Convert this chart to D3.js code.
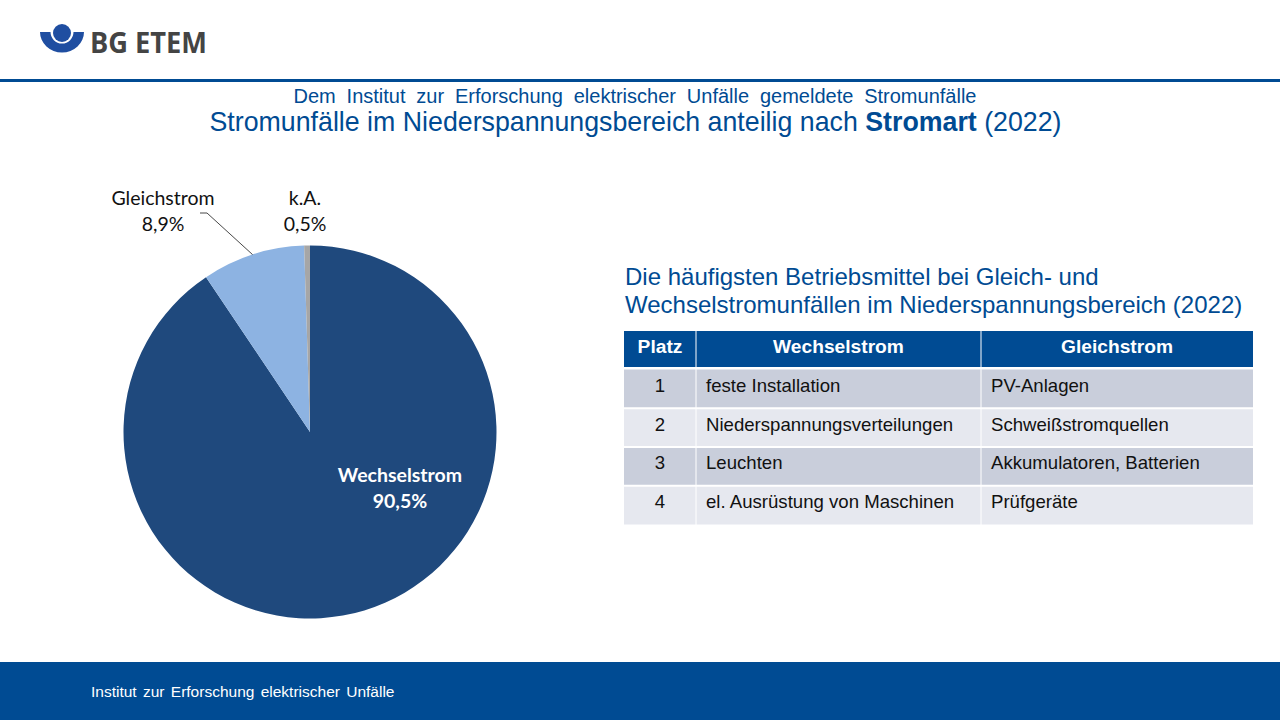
<!DOCTYPE html>
<html lang="de">
<head>
<meta charset="utf-8">
<title>Stromunfälle nach Stromart</title>
<script src="https://cdn.jsdelivr.net/npm/d3@7"></script>
<style>
  html, body { margin: 0; padding: 0; background: #fff; }
  svg { display: block; }
  text { font-family: "Liberation Sans", Arial, sans-serif; }
  .calibri { font-family: Lato, "Open Sans", sans-serif; }
</style>
</head>
<body>
<svg id="chart" width="1280" height="720"></svg>
<script>
const categories = ["Wechselstrom", "Gleichstrom", "k.A."];
const shares = [90.5, 8.9, 0.5];
const shareLabels = ["90,5%", "8,9%", "0,5%"];
const sliceColors = ["#1f497d", "#8db3e2", "#a6a6a6"];

const tableHead = ["Platz", "Wechselstrom", "Gleichstrom"];
const ranks = ["1", "2", "3", "4"];
const acItems = ["feste Installation", "Niederspannungsverteilungen", "Leuchten", "el. Ausrüstung von Maschinen"];
const dcItems = ["PV-Anlagen", "Schweißstromquellen", "Akkumulatoren, Batterien", "Prüfgeräte"];

const blue = "#004b93";
const svg = d3.select("#chart");

// logo
const logo = svg.append("g").attr("transform", "translate(62,32)");
logo.append("path")
  .attr("fill", "#1f4ea1")
  .attr("d", "M-22,0 H-11.5 A11.5,11.5 0 0 0 11.5,0 H22 A22,20.5 0 0 1 -22,0 Z");
logo.append("circle").attr("cy", 1).attr("r", 9).attr("fill", "#1f4ea1");
svg.append("text")
  .attr("x", 90).attr("y", 53)
  .attr("textLength", 117).attr("lengthAdjust", "spacingAndGlyphs")
  .attr("font-size", 28).attr("font-weight", 700).attr("fill", "#444")
  .style("font-family", "'Open Sans', sans-serif")
  .text("BG ETEM");

// header rule and footer band
svg.append("rect").attr("x", 0).attr("y", 79).attr("width", 1280).attr("height", 3).attr("fill", blue);
svg.append("rect").attr("x", 0).attr("y", 662).attr("width", 1280).attr("height", 58).attr("fill", blue);
svg.append("text").attr("x", 91).attr("y", 697).attr("font-size", 15.5).attr("fill", "#fff")
  .attr("word-spacing", 2).text("Institut zur Erforschung elektrischer Unfälle");

// titles
svg.append("text").attr("x", 635).attr("y", 103).attr("text-anchor", "middle")
  .attr("font-size", 20).attr("fill", blue).attr("word-spacing", 5.3)
  .text("Dem Institut zur Erforschung elektrischer Unfälle gemeldete Stromunfälle");
const title = svg.append("text").attr("x", 635.5).attr("y", 131).attr("text-anchor", "middle")
  .attr("font-size", 26.75).attr("fill", blue);
title.append("tspan").text("Stromunfälle im Niederspannungsbereich anteilig nach ");
title.append("tspan").attr("font-weight", 700).text("Stromart");
title.append("tspan").text(" (2022)");

// pie, clockwise from 12 o'clock
const radius = 186.5;
const pieG = svg.append("g").attr("transform", "translate(310,432)");
const arcs = d3.pie().sort(null).value(d => d)(shares);
const arcGen = d3.arc().innerRadius(0).outerRadius(radius);
pieG.selectAll("path").data(arcs).join("path")
  .attr("d", arcGen)
  .attr("fill", (d, i) => sliceColors[i]);

// leader line for Gleichstrom
const leaderStart = d3.arc().innerRadius(radius).outerRadius(radius)
  .startAngle(arcs[1].startAngle + 0.278).endAngle(arcs[1].startAngle + 0.278).centroid();
pieG.append("path")
  .attr("fill", "none").attr("stroke", "#333").attr("stroke-width", 0.9)
  .attr("d", d3.line()([leaderStart, [-103, -219], [-110, -219]]));

const pieLabels = [
  { i: 0, x: 400, y: 482, color: "#fff", weight: 700 },
  { i: 1, x: 163, y: 205, color: "#111", weight: 400 },
  { i: 2, x: 305, y: 204.5, color: "#111", weight: 400 }
];
pieLabels.forEach(l => {
  const t = svg.append("text").attr("class", "calibri").attr("text-anchor", "middle")
    .attr("font-size", 19.5).attr("fill", l.color).attr("font-weight", l.weight);
  t.append("tspan").attr("x", l.x).attr("y", l.y).text(categories[l.i]);
  t.append("tspan").attr("x", l.x).attr("y", l.y + 26).text(shareLabels[l.i]);
});

// table heading
svg.append("text").attr("x", 625).attr("y", 285).attr("font-size", 24).attr("fill", blue)
  .text("Die häufigsten Betriebsmittel bei Gleich- und");
svg.append("text").attr("x", 625).attr("y", 313).attr("font-size", 24).attr("fill", blue)
  .text("Wechselstromunfällen im Niederspannungsbereich (2022)");

// table
const colEdges = [624, 696, 981, 1253];
const y = d3.scaleBand().domain(ranks).range([369.5, 524.5]);
const table = svg.append("g");

tableHead.forEach((h, c) => {
  table.append("rect").attr("x", colEdges[c]).attr("y", 331)
    .attr("width", colEdges[c + 1] - colEdges[c]).attr("height", 36).attr("fill", blue);
  table.append("text").attr("x", (colEdges[c] + colEdges[c + 1]) / 2).attr("y", 353)
    .attr("text-anchor", "middle").attr("font-size", 19.2).attr("font-weight", 700).attr("fill", "#fff")
    .text(h);
});

ranks.forEach((r, i) => {
  const row = [r, acItems[i], dcItems[i]];
  row.forEach((val, c) => {
    table.append("rect").attr("x", colEdges[c]).attr("y", y(r))
      .attr("width", colEdges[c + 1] - colEdges[c]).attr("height", y.bandwidth())
      .attr("fill", i % 2 ? "#e6e8ef" : "#c9cedb");
    table.append("text")
      .attr("x", c === 0 ? (colEdges[0] + colEdges[1]) / 2 : colEdges[c] + 10)
      .attr("y", y(r) + y.bandwidth() / 2 + 3)
      .attr("text-anchor", c === 0 ? "middle" : "start")
      .attr("font-size", 18.6).attr("fill", "#111")
      .text(val);
  });
});

// white cell borders
[696, 981].forEach(x => table.append("line")
  .attr("x1", x).attr("x2", x).attr("y1", 331).attr("y2", 525)
  .attr("stroke", "#fff").attr("stroke-width", 1));
ranks.slice(1).forEach(r => table.append("line")
  .attr("x1", 624).attr("x2", 1253).attr("y1", y(r)).attr("y2", y(r))
  .attr("stroke", "#fff").attr("stroke-width", 2));
</script>
</body>
</html>
